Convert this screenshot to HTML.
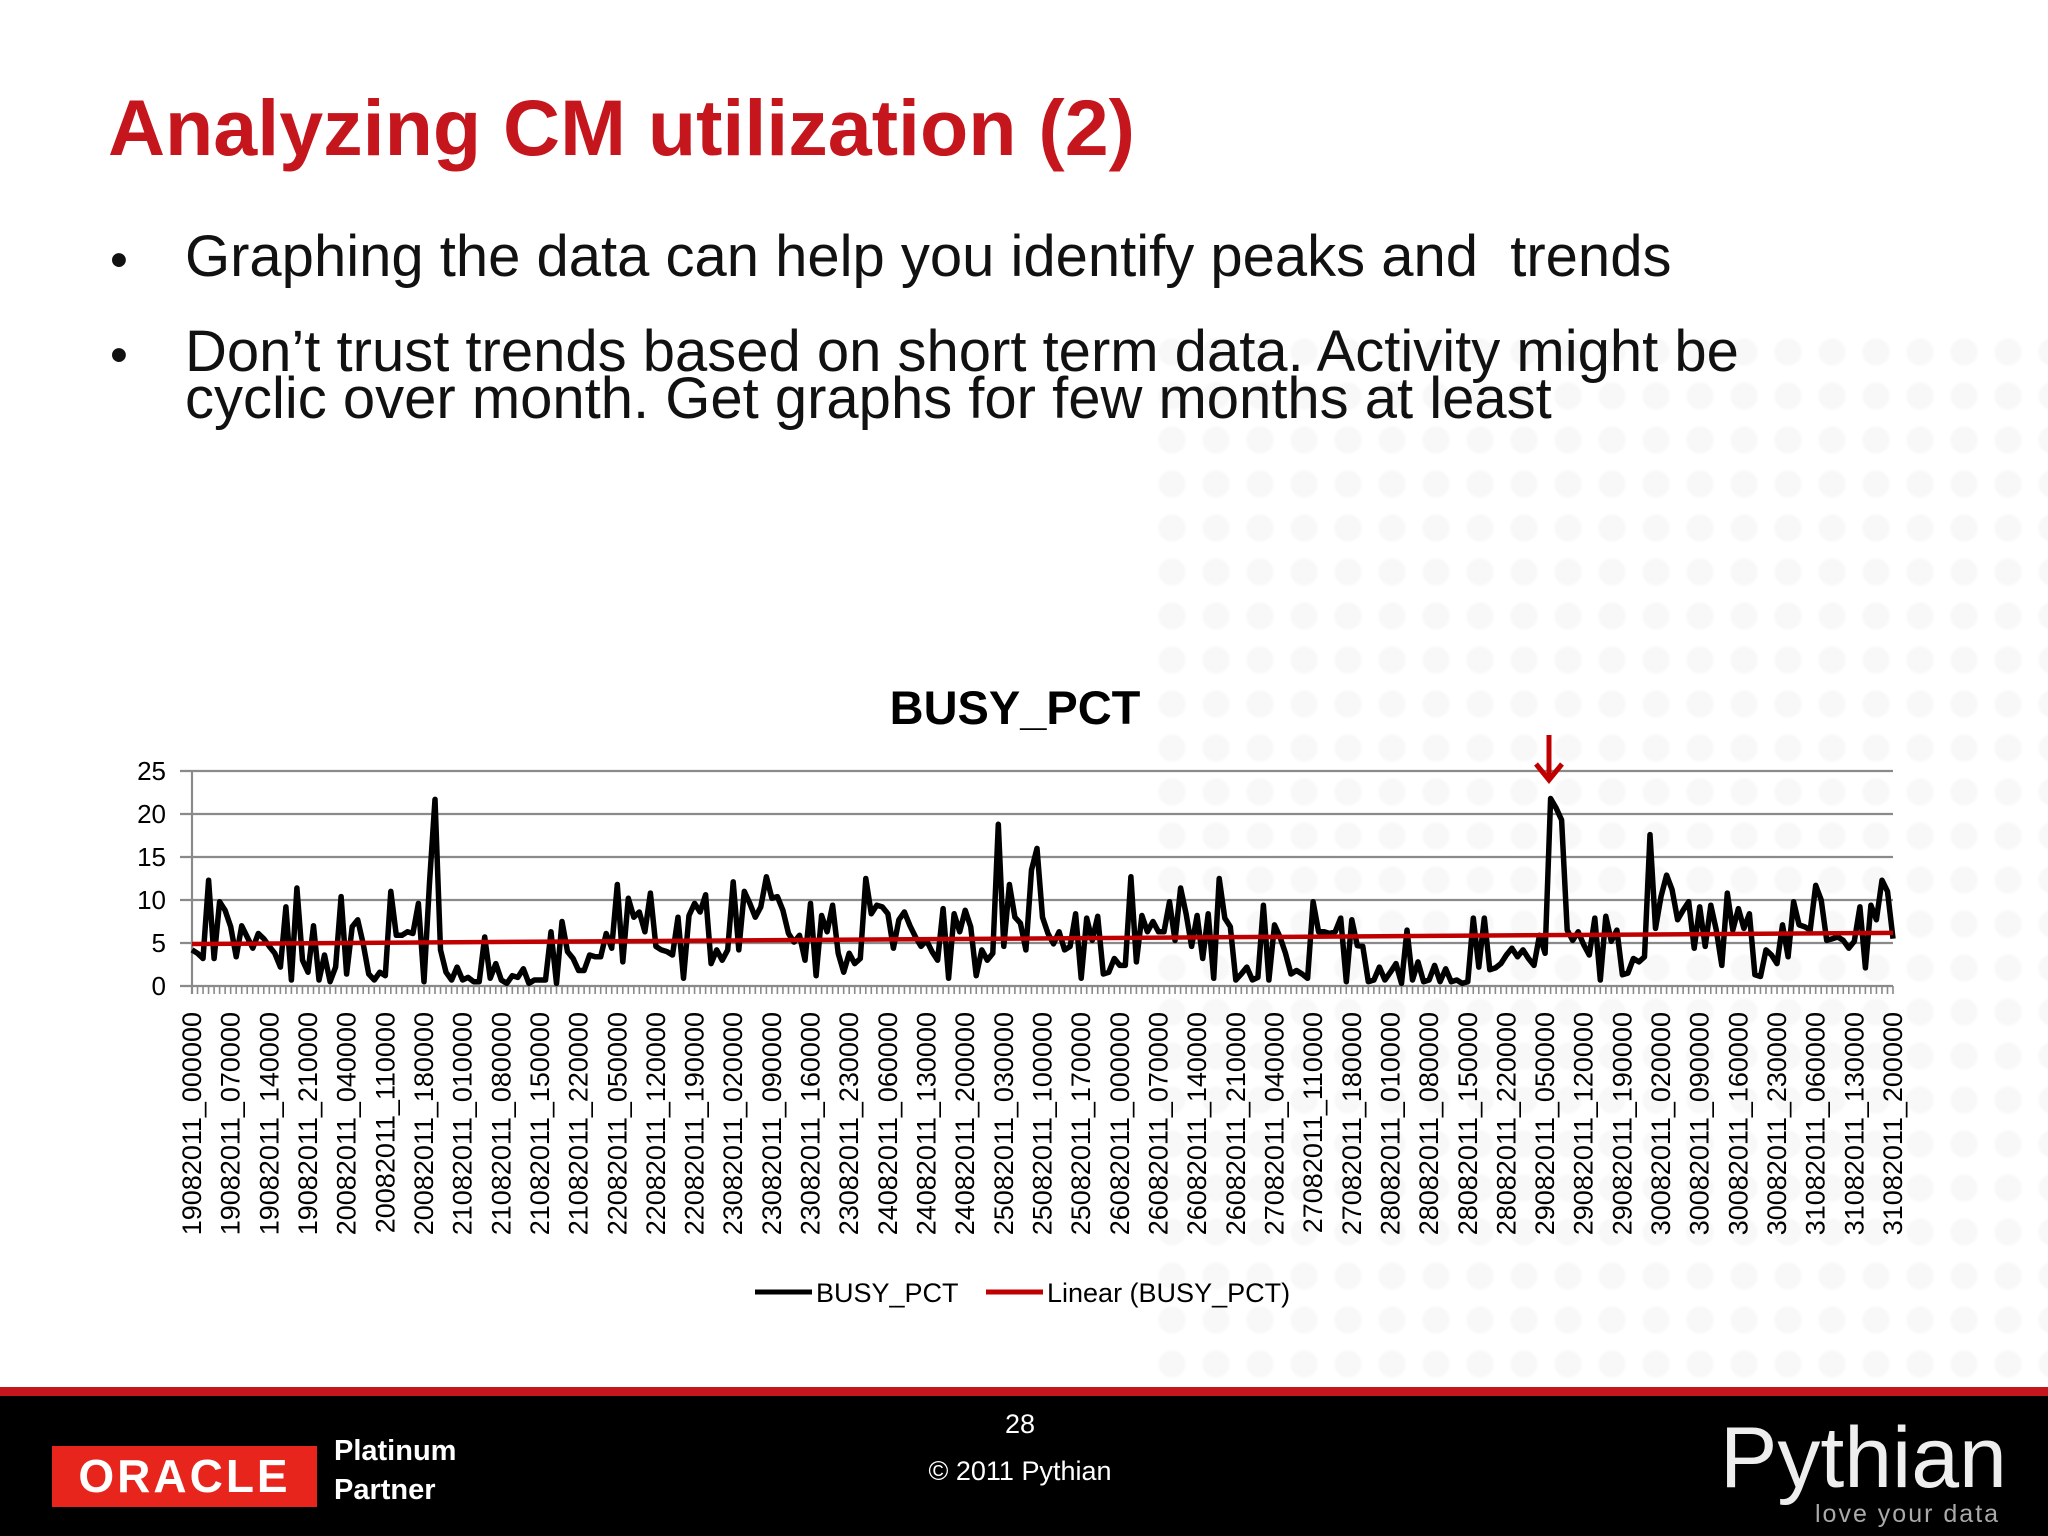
<!DOCTYPE html>
<html><head><meta charset="utf-8">
<style>
html,body{margin:0;padding:0}
body{width:2048px;height:1536px;position:relative;overflow:hidden;background:#fff;font-family:"Liberation Sans",sans-serif}
.dots{position:absolute;left:1150px;top:330px;width:898px;height:1050px;background-image:radial-gradient(circle,#f6f6f6 0,#f6f6f6 12px,transparent 15px);background-size:44px 44px;opacity:.8}
#title{position:absolute;left:108px;top:82px;font-size:79px;font-weight:bold;color:#c4161c;white-space:nowrap}
.bul{position:absolute;left:110px;font-size:51px;color:#111;white-space:nowrap;line-height:1}
.btx{position:absolute;left:185px;font-size:58px;color:#111;white-space:nowrap;line-height:1}
#footer{position:absolute;left:0;top:1387px;width:2048px;height:149px;background:#000;border-top:9px solid #c4161c;box-sizing:border-box}
</style></head><body>
<div class="dots"></div>
<div id="title">Analyzing CM utilization (2)</div>
<div class="bul" style="top:234px">•</div>
<div class="btx" style="top:228px">Graphing the data can help you identify peaks and &nbsp;trends</div>
<div class="bul" style="top:329px">•</div>
<div class="btx" style="top:323px">Don’t trust trends based on short term data. Activity might be</div>
<div class="btx" style="top:370px">cyclic over month. Get graphs for few months at least</div>

<svg id="chart" width="2048" height="1387" style="position:absolute;left:0;top:0"></svg>

<div id="footer">
  <div style="position:absolute;left:52px;top:50px;width:265px;height:61px;background:#e8251d;color:#fff;font-weight:bold;font-size:46px;line-height:61px;text-align:center;letter-spacing:3px">ORACLE</div>
  <div style="position:absolute;left:334px;top:36px;color:#fff;font-weight:bold;font-size:29px;line-height:39px">Platinum<br>Partner</div>
  <div style="position:absolute;left:990px;top:13px;width:60px;text-align:center;color:#fff;font-size:27px">28</div>
  <div style="position:absolute;left:870px;top:60px;width:300px;text-align:center;color:#fff;font-size:27px">© 2011 Pythian</div>
  <div style="position:absolute;left:1720px;top:14px;color:#eee;font-size:86px;line-height:96px">Pythian</div>
  <div style="position:absolute;left:1815px;top:104px;color:#aaa;font-size:25px;letter-spacing:2px">love your data</div>
</div>

<script>
const values = [4.2,3.8,3.2,12.3,3.2,9.8,8.8,6.9,3.4,7,5.7,4.4,6.1,5.5,4.6,3.8,2.2,9.2,0.7,11.4,3,1.6,7,0.7,3.6,0.5,2.2,10.4,1.4,6.9,7.7,4.9,1.4,0.7,1.6,1.2,11,5.9,5.9,6.3,6.1,9.6,0.5,12,21.7,4.2,1.6,0.7,2.2,0.7,1,0.5,0.5,5.7,0.9,2.6,0.7,0.3,1.2,1,2,0.3,0.7,0.7,0.7,6.3,0.3,7.5,4,3.2,1.8,1.8,3.6,3.4,3.4,6.1,4.4,11.8,
2.8,10.2,8,8.6,6.3,10.8,4.6,4.2,4,3.6,8,0.9,8.2,9.6,8.6,10.6,2.6,4.2,3,4.2,12.1,4.2,11,9.6,8,9.2,12.7,10.2,10.4,8.8,6.1,5.1,5.9,3,9.6,1.2,8.2,6.3,9.4,3.8,1.6,3.8,2.6,3.2,12.5,8.4,9.4,9.2,8.4,4.4,7.7,8.6,7,5.7,4.6,5.3,4,3,9,0.9,8.4,6.3,8.8,6.9,1.2,4.2,3,3.8,18.8,4.6,11.8,8,7.3,4.2,13.5,16,8,6.1,
4.9,6.3,4.2,4.6,8.4,0.9,7.9,5.3,8.1,1.4,1.6,3.2,2.4,2.4,12.7,2.8,8.2,6.3,7.5,6.3,6.3,9.8,5.3,11.4,8.4,4.6,8.2,3.2,8.4,0.9,12.5,7.9,6.9,0.7,1.4,2.2,0.7,1,9.4,0.7,7.1,5.7,3.8,1.4,1.8,1.4,0.9,9.8,6.3,6.3,6.1,6.3,7.9,0.5,7.7,4.7,4.6,0.5,0.7,2.2,0.7,1.6,2.6,0.3,6.5,0.7,2.8,0.5,0.7,2.4,0.5,2,0.5,0.7,0.3,
0.5,7.9,2.2,7.9,1.9,2.1,2.6,3.6,4.4,3.4,4.2,3.2,2.4,5.9,3.8,21.8,20.7,19.3,6.5,5.3,6.3,4.8,3.6,7.9,0.7,8.1,5.2,6.5,1.3,1.5,3.2,2.8,3.4,17.6,6.7,10.4,12.9,11.2,7.7,8.8,9.8,4.4,9.2,4.6,9.4,6.5,2.4,10.8,6.5,9,6.7,8.4,1.3,1.1,4.2,3.6,2.6,7.1,3.4,9.8,7.1,6.9,6.5,11.7,10,5.3,5.5,5.7,5.3,4.4,5.2,9.2,2.1,9.4,7.7,12.3,11,5.5];
const yTicks = [0,5,10,15,20,25];
const startDay = 19, labelEvery = 7;
const categories = values.map((v,i)=>{const d=startDay+Math.floor(i/24),h=i%24;return String(d)+"082011_"+String(h).padStart(2,"0")+"0000";});

const svg=document.getElementById('chart');
const NS='http://www.w3.org/2000/svg';
const L=192,R=1893,Y0=986,Y25=771,YMAX=25;
const n=values.length;
const xs=i=>L+(R-L)*i/(n-1);
const ys=v=>Y0-(Y0-Y25)*v/YMAX;
function mk(t,a,p){const e=document.createElementNS(NS,t);for(const k in a)e.setAttribute(k,a[k]);(p||svg).appendChild(e);return e;}

const ttl=mk('text',{x:1015,y:724,'font-size':47,'font-weight':'bold','text-anchor':'middle',fill:'#000','font-family':'Liberation Sans, sans-serif'});
ttl.textContent='BUSY_PCT';



yTicks.forEach(t=>{
  const g=mk('line',{x1:180,x2:R,y1:ys(t),y2:ys(t),stroke:'#8a8a8a','stroke-width':2.2});
  
  
  const tx=mk('text',{x:166,y:ys(t)+9,'font-size':26,'text-anchor':'end',fill:'#000','font-family':'Liberation Sans, sans-serif'});
  tx.textContent=t;
  
  
});
const ya=mk('line',{x1:L,x2:L,y1:Y25,y2:Y0+8,stroke:'#8a8a8a','stroke-width':2.2});


let tk='';
for(let i=0;i<n;i++){const x=xs(i);tk+='M'+x+' '+Y0+'V'+(Y0+8);}
const ticks=mk('path',{d:tk,stroke:'#8a8a8a','stroke-width':1.6});



categories.forEach((c,i)=>{
  if(i%labelEvery) return;
  const x=xs(i)+9,y=1012;
  const t=mk('text',{x:x,y:y,transform:'rotate(-90 '+x+' '+y+')','font-size':27,'text-anchor':'end',fill:'#000','font-family':'Liberation Sans, sans-serif'});
  t.textContent=c;
  
  
});

let sx=0,sy=0,sxy=0,sxx=0;
values.forEach((v,i)=>{sx+=i;sy+=v;sxy+=i*v;sxx+=i*i;});
const slope=(n*sxy-sx*sy)/(n*sxx-sx*sx), icpt=(sy-slope*sx)/n;

let d='';
values.forEach((v,i)=>{d+=(i?'L':'M')+xs(i).toFixed(1)+' '+ys(v).toFixed(1);});
const line=mk('path',{d:d,fill:'none',stroke:'#000','stroke-width':5.5,'stroke-linejoin':'round'});


const tr=mk('line',{x1:xs(0),y1:ys(icpt),x2:xs(n-1),y2:ys(icpt+slope*(n-1)),stroke:'#c00000','stroke-width':4.5});



const arr=mk('path',{d:'M1549 735V778M1536 764L1549 780L1562 764',fill:'none',stroke:'#c00000','stroke-width':5});



const l1=mk('line',{x1:755,x2:812,y1:1292,y2:1292,stroke:'#000','stroke-width':5});


const lt1=mk('text',{x:816,y:1302,'font-size':27,fill:'#000','font-family':'Liberation Sans, sans-serif'});
lt1.textContent='BUSY_PCT';


const l2=mk('line',{x1:986,x2:1043,y1:1292,y2:1292,stroke:'#c00000','stroke-width':5});


const lt2=mk('text',{x:1047,y:1302,'font-size':27,fill:'#000','font-family':'Liberation Sans, sans-serif'});
lt2.textContent='Linear (BUSY_PCT)';


</script>
</body></html>
